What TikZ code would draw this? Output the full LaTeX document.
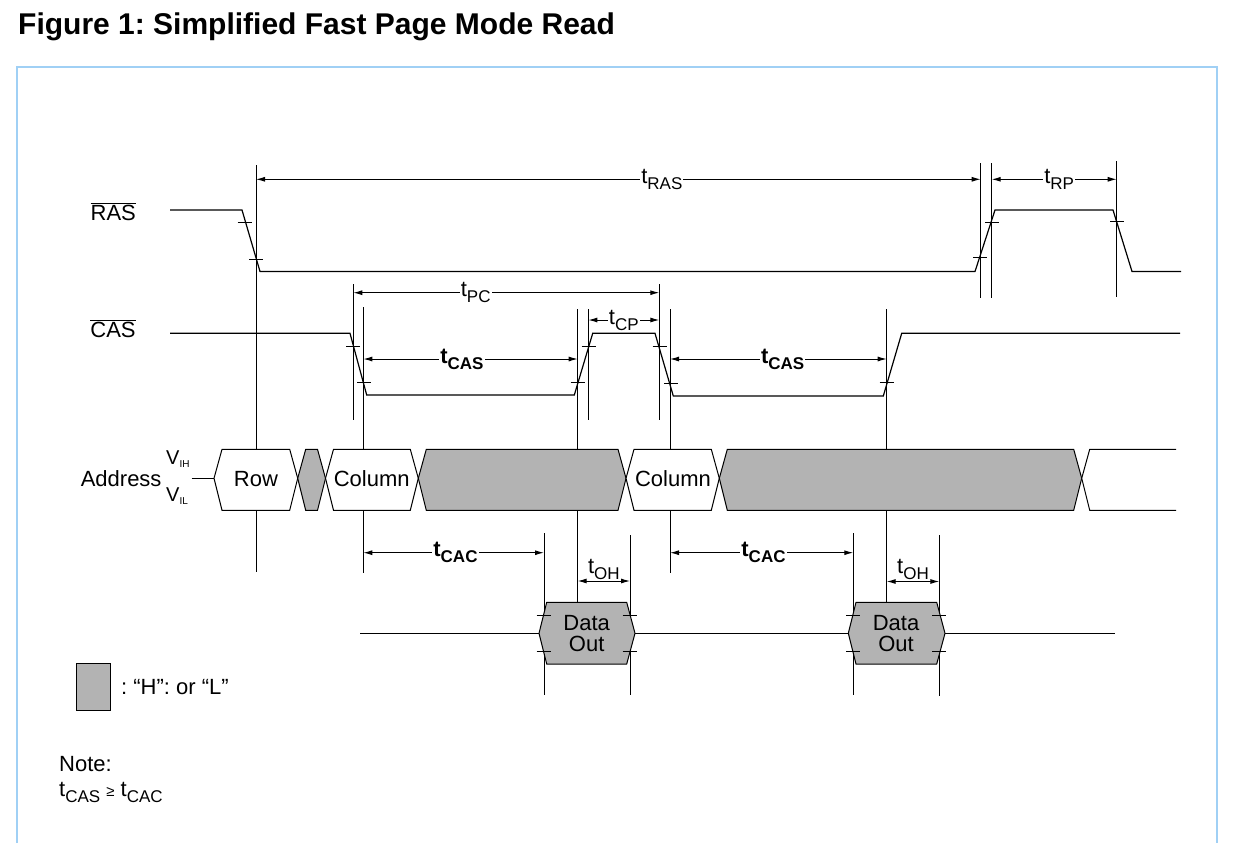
\documentclass[tikz,border=0pt]{standalone}
\usepackage{fontspec}
\setmainfont{Liberation Sans}
\usepackage{tikz}
\usetikzlibrary{arrows.meta}
\frenchspacing

\definecolor{framecol}{RGB}{160,208,245}
\definecolor{dontcare}{RGB}{179,179,179}

\newcommand{\tsub}[1]{t\raisebox{-6pt}{\fontsize{17}{17}\selectfont #1}}
\newcommand{\vsub}[2]{V\raisebox{-#2}{\fontsize{10}{10}\selectfont #1}}

\begin{document}
\begin{tikzpicture}[x=1pt, y=-1pt, font=\fontsize{22}{21}\selectfont]
\tikzstyle{signal} = [draw, line width=1.2pt]
\tikzstyle{guide} = [draw, line width=1pt]
\tikzstyle{tickmark} = [draw, line width=1pt]
\tikzstyle{dim} = [draw, line width=1pt, >={Latex[length=9pt,width=5pt]}, <->]
\tikzstyle{dimlabel} = [fill=white, inner xsep=1pt, inner ysep=0pt]
\tikzstyle{valid} = [draw, line width=1pt, fill=white]
\tikzstyle{xx} = [draw, line width=1pt, fill=dontcare]

\useasboundingbox (0,0) rectangle (1238,843);

% frame and title
\draw [framecol, line width=2pt] (17,843) -- (17,67) -- (1217,67) -- (1217,843);
\node [anchor=base west, inner sep=0pt, font=\fontsize{30}{30}\selectfont\bfseries] (title) at (18,35) {Figure 1: Simplified Fast Page Mode Read};

% reference lines
\foreach \x/\a/\b in {256/165/572, 353.3/284/420, 363.3/307/573, 577.7/309/602,
    588.3/309/420, 659.3/284/420, 670/309/573, 886.7/309/602,
    980.7/163/298, 991.7/163/298, 1116.7/161/297,
    544/533/695, 630/535/695, 853.3/533/695, 939.3/535/696}
  \draw [guide] (\x,\a) -- (\x,\b);

% RAS and CAS
\node [anchor=base] (ras) at (113.3,220) {$\overline{\mbox{RAS}}$};
\node [anchor=base] (cas) at (113,337.3) {$\overline{\mbox{CAS}}$};
\draw [signal] (170,210) -- (242,210) -- (260,271.5) -- (975,271.5) -- (995,210)
  -- (1113,210) -- (1132,271.5) -- (1181,271.5);
\draw [signal] (170,333.3) -- (350,333.3) -- (366.7,395) -- (574.3,395) -- (592.7,333.3)
  -- (655,333.3) -- (673.3,396) -- (883.3,396) -- (901.7,333.3) -- (1180,333.3);

% address bus
\node [anchor=base east, inner sep=0pt] (addr) at (161.7,486.2) {Address};
\node [anchor=base west, inner sep=0pt, font=\fontsize{20}{20}\selectfont] (vih) at (166,464.3) {\vsub{IH}{3pt}};
\node [anchor=base west, inner sep=0pt, font=\fontsize{20}{20}\selectfont] (vil) at (166,501.7) {\vsub{IL}{2.5pt}};
\coordinate (busin) at (214,478.3);
\draw [guide] (191.7,478.3) -- (busin);
\foreach \l/\r/\kind in {214/297.7/valid, 297.7/325.5/xx, 325.5/418.3/valid,
    418.3/626/xx, 626/719.3/valid, 719.3/1081.7/xx}
  \path [\kind] (\l,478.3) -- (\l+8,449.3) -- (\r-8,449.3) -- (\r,478.3)
    -- (\r-8,510.3) -- (\l+8,510.3) -- cycle;
\path [valid] (1176,449.3) -- (1089.7,449.3) -- (1081.7,478.3) -- (1089.7,510.3) -- (1176,510.3);
\node (row) at (256,479) {Row};
\node (col1) at (371.7,479) {Column};
\node (col2) at (673,479) {Column};

% data out
\draw [guide] (360,633.3) -- (539,633.3);
\draw [guide] (635,633.3) -- (848.3,633.3);
\draw [guide] (945,633.3) -- (1115,633.3);
\foreach \l/\r in {539/635, 848.3/945}
  \path [xx] (\l,633.3) -- (\l+7.7,602.3) -- (\r-8.3,602.3) -- (\r,633.3)
    -- (\r-8.3,664) -- (\l+7.7,664) -- cycle;
\node [align=center] (dout1) at (586.7,634) {Data\\Out};
\node [align=center] (dout2) at (896,634) {Data\\Out};

% ticks on the edges
\foreach \x/\y in {244.5/222, 256/259, 980/257.3, 992/222.3, 1117/221.7,
    353/346.7, 364/382.7, 577.5/382.7, 588.5/346.7, 659.5/346.7, 671/383.3, 886.7/382.7,
    543.7/615.7, 629.7/615.7, 543.7/651.7, 629.7/651.7,
    853/615.7, 939.3/615.7, 853/651.7, 939.3/651.7}
  \draw [tickmark] (\x-7,\y) -- (\x+7,\y);

% timing arrows
\coordinate (rasA) at (256,179.3); \coordinate (rasB) at (980.7,179.3);
\coordinate (rpA) at (991.7,179.3); \coordinate (rpB) at (1116.7,179.3);
\coordinate (pcA) at (353.3,292.7); \coordinate (pcB) at (659.3,292.7);
\coordinate (cpA) at (588.3,320); \coordinate (cpB) at (659.3,320);
\coordinate (casA) at (363.3,359); \coordinate (casB) at (577.7,359);
\coordinate (casC) at (670,359); \coordinate (casD) at (886.7,359);
\coordinate (cacA) at (363.3,552.7); \coordinate (cacB) at (544,552.7);
\coordinate (cacC) at (670,552.7); \coordinate (cacD) at (853.3,552.7);
\coordinate (ohA) at (577.7,581); \coordinate (ohB) at (630,581);
\coordinate (ohC) at (886.7,581.5); \coordinate (ohD) at (939.3,581.5);

\draw [dim] (rasA) -- node [dimlabel, pos=0.56] (tras) {\tsub{RAS}} (rasB);
\draw [dim] (rpA) -- node [dimlabel, pos=0.54] (trp) {\tsub{RP}} (rpB);
\draw [dim] (pcA) -- node [dimlabel, pos=0.4] (tpc) {\tsub{PC}} (pcB);
\draw [dim] (cpA) -- node [dimlabel] (tcp) {\tsub{CP}} (cpB);
\draw [dim] (casA) -- node [dimlabel, pos=0.46] (tcas1) {\textbf{\tsub{CAS}}} (casB);
\draw [dim] (casC) -- node [dimlabel, pos=0.52] (tcas2) {\textbf{\tsub{CAS}}} (casD);
\draw [dim] (cacA) -- node [dimlabel, pos=0.51] (tcac1) {\textbf{\tsub{CAC}}} (cacB);
\draw [dim] (cacC) -- node [dimlabel, pos=0.51] (tcac2) {\textbf{\tsub{CAC}}} (cacD);
\draw [dim] (ohA) -- node [above, inner sep=1pt] (toh1) {\tsub{OH}} (ohB);
\draw [dim] (ohC) -- node [above, inner sep=1pt] (toh2) {\tsub{OH}} (ohD);

% legend and note
\node [draw, line width=1pt, fill=dontcare, minimum width=34pt, minimum height=46.7pt, inner sep=0pt] (legbox) at (93.7,686.7) {};
\node [anchor=base west, inner sep=0pt] (legtext) at (121,694.6) {: “H”: or “L”};
\node [anchor=base west, inner sep=0pt] (note) at (59,771) {Note:};
\node [anchor=base west, inner sep=0pt] (rule) at (59,796.5) {\tsub{CAS} {\fontsize{15}{15}\selectfont ≥} \tsub{CAC}};
\end{tikzpicture}
\end{document}
